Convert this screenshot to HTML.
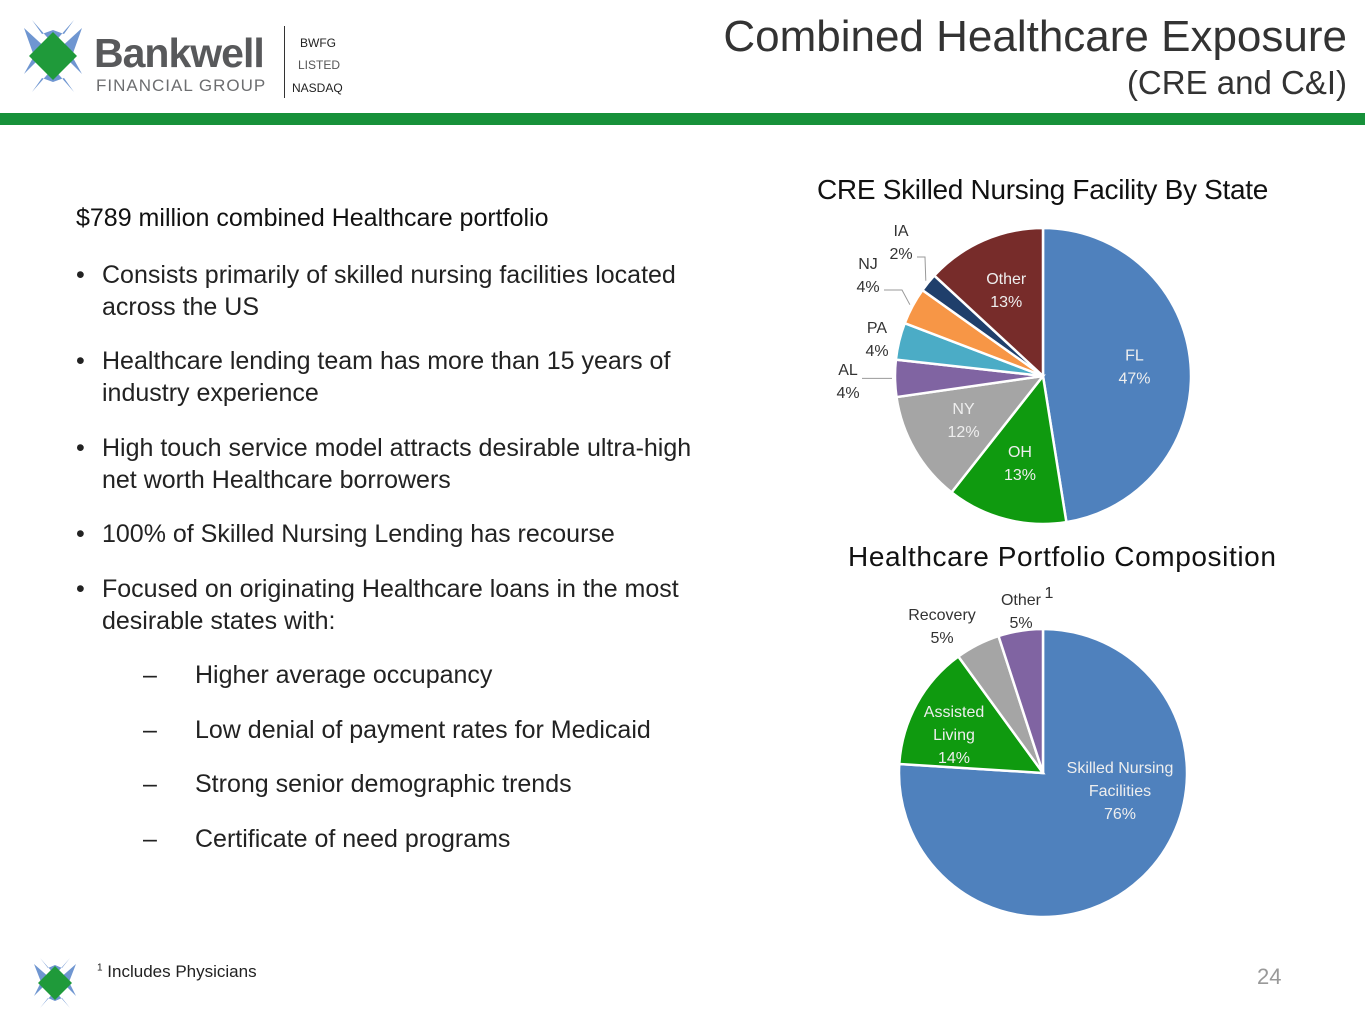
<!DOCTYPE html>
<html><head><meta charset="utf-8"><style>
body{margin:0;width:1365px;height:1024px;background:#fff;font-family:"Liberation Sans",sans-serif;position:relative;overflow:hidden;color:#111}
.a{position:absolute;margin:0}
.bl{position:absolute;font-size:25px;line-height:32px;color:#222}
</style></head><body>
<svg class="a" style="left:18px;top:20px" width="70" height="72">
<path d="M6 8 L30 30 L6 54 L16 36 L6 8Z M64 8 L40 30 L64 54 L54 36Z" fill="#6f96d1"/>
<path d="M14 0 L35 24 L56 0 L46 14 L35 10 L24 14Z M14 72 L35 48 L56 72 L46 58 L35 62 L24 58Z" fill="#6f96d1"/>
<path d="M35 12 L47 24 L35 36 L23 24Z M35 36 L47 48 L35 60 L23 48Z M11 36 L23 24 L35 36 L23 48Z M35 36 L47 24 L59 36 L47 48Z" fill="#1f9a3a"/>
</svg>
<div class="a" style="left:94px;top:30px;font-size:41px;font-weight:bold;color:#58595b;letter-spacing:-1px">Bankwell</div>
<div class="a" style="left:96px;top:76px;font-size:17px;color:#6d6e70;letter-spacing:1px">FINANCIAL GROUP</div>
<div class="a" style="left:284px;top:26px;width:1px;height:72px;background:#333"></div>
<div class="a" style="left:300px;top:36px;font-size:12px;color:#222">BWFG</div>
<div class="a" style="left:298px;top:58px;font-size:12px;color:#555">LISTED</div>
<div class="a" style="left:292px;top:81px;font-size:12px;color:#222">NASDAQ</div>
<div class="a" style="right:18px;top:12px;font-size:44px;color:#333;text-align:right">Combined Healthcare Exposure</div>
<div class="a" style="right:18px;top:64px;font-size:33px;color:#333">(CRE and C&amp;I)</div>
<div class="a" style="left:0;top:113px;width:1365px;height:12px;background:#17913a"></div>

<div class="a" style="left:76px;top:204px;font-size:25px;letter-spacing:0px;color:#111">$789 million combined Healthcare portfolio</div>
<div>
<div class="bl" style="left:76px;top:259px">•</div><div class="bl" style="left:102px;top:259px;width:620px">Consists primarily of skilled nursing facilities located across the US</div>
<div class="bl" style="left:76px;top:345px">•</div><div class="bl" style="left:102px;top:345px;width:620px">Healthcare lending team has more than 15 years of industry experience</div>
<div class="bl" style="left:76px;top:432px">•</div><div class="bl" style="left:102px;top:432px;width:620px">High touch service model attracts desirable ultra-high net worth Healthcare borrowers</div>
<div class="bl" style="left:76px;top:518px">•</div><div class="bl" style="left:102px;top:518px">100% of Skilled Nursing Lending has recourse</div>
<div class="bl" style="left:76px;top:573px">•</div><div class="bl" style="left:102px;top:573px;width:620px">Focused on originating Healthcare loans in the most desirable states with:</div>
<div class="bl" style="left:143px;top:659px">–</div><div class="bl" style="left:195px;top:659px">Higher average occupancy</div>
<div class="bl" style="left:143px;top:714px">–</div><div class="bl" style="left:195px;top:714px">Low denial of payment rates for Medicaid</div>
<div class="bl" style="left:143px;top:768px">–</div><div class="bl" style="left:195px;top:768px">Strong senior demographic trends</div>
<div class="bl" style="left:143px;top:823px">–</div><div class="bl" style="left:195px;top:823px">Certificate of need programs</div>
</div>

<div class="a" style="left:817px;top:174px;font-size:28px;letter-spacing:-0.3px;color:#111">CRE Skilled Nursing Facility By State</div>
<div class="a" style="left:848px;top:541px;font-size:28px;letter-spacing:0.6px;color:#111">Healthcare Portfolio Composition</div>
<svg class="a" style="left:0;top:0" width="1365" height="1024" id="charts"></svg>

<div class="a" style="left:97px;top:962px;font-size:17px;color:#222"><sup style="font-size:10px">1</sup> Includes Physicians</div>
<div class="a" style="left:1257px;top:964px;font-size:22px;color:#999">24</div>
<svg class="a" style="left:30px;top:958px" width="50" height="50">
<path d="M4 6 L21 21 L4 38 L11 24Z M46 6 L29 21 L46 38 L39 24Z M10 0 L25 17 L40 0 L32 10 L25 7 L18 10Z M10 50 L25 33 L40 50 L32 40 L25 43 L18 40Z" fill="#6f96d1"/>
<path d="M25 8 L34 17 L25 25 L16 17Z M25 25 L34 33 L25 42 L16 33Z M8 25 L16 17 L25 25 L16 33Z M25 25 L34 17 L42 25 L34 33Z" fill="#1f9a3a"/>
</svg>

<script>
const stateLabels=["FL","OH","NY","AL","PA","NJ","IA","Other"];
const stateValues=[47,13,12,4,4,4,2,13];
const stateColors=["#4f81bd","#0f9a0f","#a5a5a5","#8064a2","#4bacc6","#f79646","#1f3f6b","#772c2a"];
const compLabels=["Skilled Nursing Facilities","Assisted Living","Recovery","Other"];
const compValues=[76,14,5,5];
const compColors=["#4f81bd","#0f9a0f","#a5a5a5","#8064a2"];
const NS="http://www.w3.org/2000/svg";
const svg=document.getElementById('charts');
function pie(cx,cy,r,vals,cols){
  const tot=vals.reduce((a,b)=>a+b,0);let a0=-Math.PI/2;
  const mids=[];
  vals.forEach((v,i)=>{
    const a1=a0+v/tot*2*Math.PI;
    const p=document.createElementNS(NS,'path');
    const x0=cx+r*Math.cos(a0),y0=cy+r*Math.sin(a0),x1=cx+r*Math.cos(a1),y1=cy+r*Math.sin(a1);
    p.setAttribute('d',`M${cx},${cy}L${x0},${y0}A${r},${r} 0 ${a1-a0>Math.PI?1:0} 1 ${x1},${y1}Z`);
    p.setAttribute('fill',cols[i]);p.setAttribute('stroke','#fff');p.setAttribute('stroke-width','2.5');
    
    
    svg.appendChild(p);mids.push((a0+a1)/2);a0=a1;
  });
  return mids;
}
function txt(x,y,lines,color){
  lines.forEach((l,j)=>{const t=document.createElementNS(NS,'text');
  t.setAttribute('x',x);t.setAttribute('y',y+j*23);t.setAttribute('text-anchor','middle');
  t.setAttribute('font-size','16');t.setAttribute('fill',color);t.setAttribute('font-family','Liberation Sans, sans-serif');
  t.textContent=l;
  
  
  svg.appendChild(t);});
}
function line(pts){const p=document.createElementNS(NS,'polyline');p.setAttribute('points',pts);p.setAttribute('fill','none');p.setAttribute('stroke','#999');


svg.appendChild(p);}
const c1x=1043,c1y=376,r1=148;
const m1=pie(c1x,c1y,r1,stateValues,stateColors);
const inside=[0,1,2,7];
const outsidePos={3:[848,375],4:[877,333],5:[868,269],6:[901,236]};
stateLabels.forEach((n,i)=>{
  if(inside.includes(i)){const rr=r1*0.62;txt(c1x+rr*Math.cos(m1[i]),c1y+rr*Math.sin(m1[i])-8,[n,stateValues[i]+'%'],'#eee');}
  else{const ex=c1x+(r1+3)*Math.cos(m1[i]),ey=c1y+(r1+3)*Math.sin(m1[i]);
    const [lx,ly]=outsidePos[i];
    if(i===3) line(`${ex},${ey} ${lx+14},${ey}`);
    else if(i===4) {}
    else if(i===5) line(`${ex},${ey} ${lx+34},${ly+21} ${lx+16},${ly+21}`);
    else line(`${ex},${ey} ${lx+24},${ly+21} ${lx+16},${ly+21}`);
    txt(lx,ly,[n,stateValues[i]+'%'],'#333');}
});
const c2x=1043,c2y=773,r2=144;
pie(c2x,c2y,r2,compValues,compColors);
txt(1120,773,["Skilled Nursing","Facilities",compValues[0]+"%"],'#eee');
txt(954,717,["Assisted","Living",compValues[1]+"%"],'#eee');
txt(942,620,["Recovery",compValues[2]+"%"],'#333');
txt(1021,605,["Other",compValues[3]+"%"],'#333');
txt(1049,598,["1"],'#333');
</script>
</body></html>
